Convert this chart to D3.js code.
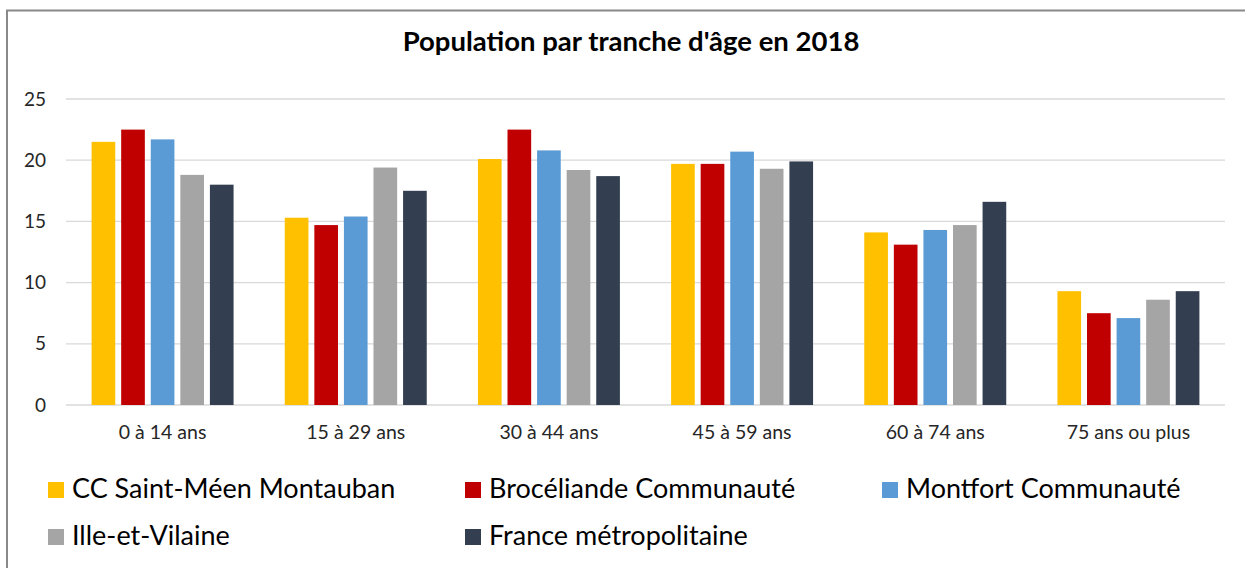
<!DOCTYPE html>
<html>
<head>
<meta charset="utf-8">
<script src="https://cdn.jsdelivr.net/npm/d3@7/dist/d3.min.js"></script>
<style>
  body { margin: 0; background: #fff; }
  svg { display: block; font-family: Lato, "Noto Sans", sans-serif; }
</style>
</head>
<body>
<svg id="chart" width="1245" height="568"></svg>
<script>
var categories = ["0 à 14 ans", "15 à 29 ans", "30 à 44 ans", "45 à 59 ans", "60 à 74 ans", "75 ans ou plus"];
var seriesNames = ["CC Saint-Méen Montauban", "Brocéliande Communauté", "Montfort Communauté", "Ille-et-Vilaine", "France métropolitaine"];
var seriesColors = ["#FFC000", "#C00000", "#5B9BD5", "#A5A5A5", "#333F50"];
var stMeen = [21.5, 15.3, 20.1, 19.7, 14.1, 9.3];
var broceliande = [22.5, 14.7, 22.5, 19.7, 13.1, 7.5];
var montfort = [21.7, 15.4, 20.8, 20.7, 14.3, 7.1];
var illeVilaine = [18.8, 19.4, 19.2, 19.3, 14.7, 8.6];
var france = [18.0, 17.5, 18.7, 19.9, 16.6, 9.3];
var yTicks = [0, 5, 10, 15, 20, 25];

var series = [stMeen, broceliande, montfort, illeVilaine, france];

var svg = d3.select("#chart");

// chart frame
svg.append("path")
	.attr("d", "M7,568 V10.5 H1245")
	.attr("fill", "none")
	.attr("stroke", "#898989")
	.attr("stroke-width", 2);

var plotLeft = 66, plotRight = 1225, plotTop = 99, plotBottom = 405;

var x0 = d3.scaleBand().domain(categories).range([plotLeft, plotRight]).paddingInner(0.265).paddingOuter(0.1325);
var x1 = d3.scaleBand().domain(d3.range(seriesNames.length)).range([0, x0.bandwidth()]).paddingInner(0.2);
var y = d3.scaleLinear().domain([0, 25]).range([plotBottom, plotTop]);

// gridlines
svg.append("g").selectAll("line")
	.data(yTicks)
	.enter().append("line")
	.attr("x1", plotLeft).attr("x2", plotRight)
	.attr("y1", function(d) { return y(d); })
	.attr("y2", function(d) { return y(d); })
	.attr("stroke", "#d9d9d9")
	.attr("stroke-width", 1.3);

// y labels
var yAxis = svg.append("g")
	.attr("transform", "translate(" + (plotLeft - 20) + ",0)")
	.call(d3.axisLeft(y).tickValues(yTicks).tickSize(0).tickPadding(0));
yAxis.select(".domain").remove();
yAxis.selectAll("text")
	.attr("font-family", "Lato, sans-serif")
	.attr("font-size", 19)
	.attr("fill", "#262626");

// bars
var groups = svg.append("g").selectAll("g")
	.data(categories)
	.enter().append("g")
	.attr("transform", function(d) { return "translate(" + x0(d) + ",0)"; });

groups.selectAll("rect")
	.data(function(d, i) {
		return series.map(function(s, j) { return { key: j, value: s[i] }; });
	})
	.enter().append("rect")
	.attr("x", function(d) { return x1(d.key); })
	.attr("width", x1.bandwidth())
	.attr("y", function(d) { return y(d.value); })
	.attr("height", function(d) { return y(0) - y(d.value); })
	.attr("fill", function(d) { return seriesColors[d.key]; });

// x labels
var xAxis = svg.append("g")
	.attr("transform", "translate(0," + plotBottom + ")")
	.call(d3.axisBottom(x0).tickSize(0).tickPadding(20));
xAxis.select(".domain").remove();
xAxis.selectAll("text")
	.attr("font-family", "Lato, sans-serif")
	.attr("font-size", 19.5)
	.attr("fill", "#262626");

// title
svg.append("text")
	.attr("x", 631)
	.attr("y", 51)
	.attr("text-anchor", "middle")
	.attr("font-size", 27.5)
	.attr("font-weight", "bold")
	.attr("fill", "#000")
	.text("Population par tranche d'âge en 2018");

// legend
var legendPos = [[48, 482], [465, 482], [882, 482], [48, 529], [465, 529]];
var legend = svg.append("g").selectAll("g")
	.data(seriesNames)
	.enter().append("g")
	.attr("transform", function(d, i) { return "translate(" + legendPos[i][0] + "," + legendPos[i][1] + ")"; });

legend.append("rect")
	.attr("width", 16).attr("height", 16)
	.attr("fill", function(d, i) { return seriesColors[i]; });

legend.append("text")
	.attr("x", 24)
	.attr("y", 16)
	.attr("font-size", 27)
	.attr("fill", "#000")
	.text(function(d) { return d; });
</script>
</body>
</html>
